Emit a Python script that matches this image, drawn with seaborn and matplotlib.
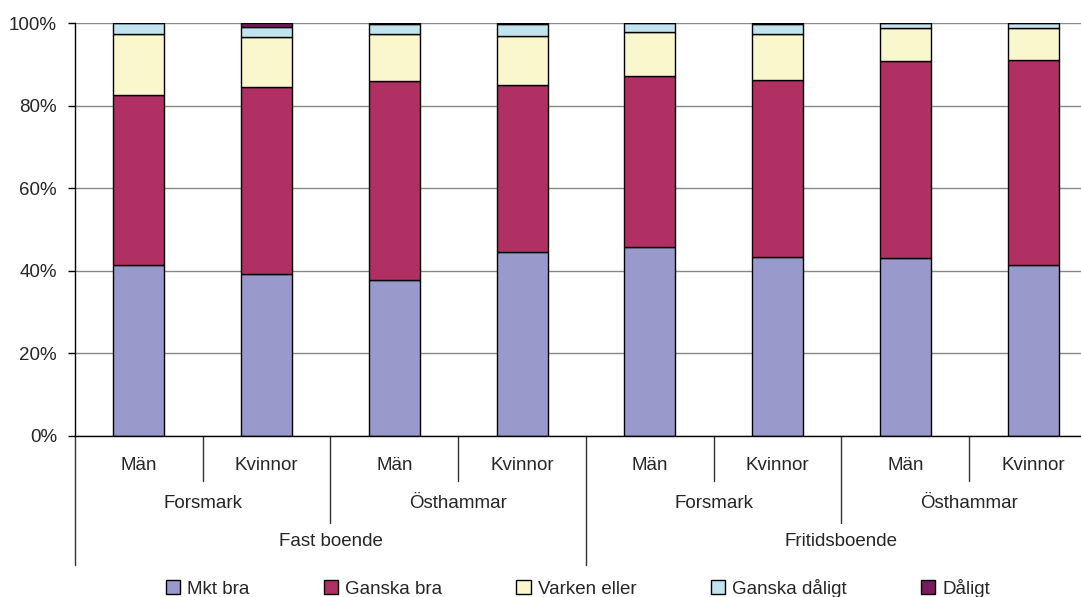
import numpy as np
import pandas as pd
import matplotlib.pyplot as plt
import seaborn as sns

# Survey answers, share in percent per group
residence = ['Fast boende'] * 4 + ['Fritidsboende'] * 4
place = ['Forsmark', 'Forsmark', 'Östhammar', 'Östhammar'] * 2
sex = ['Män', 'Kvinnor'] * 4

answers = ['Mkt bra', 'Ganska bra', 'Varken eller', 'Ganska dåligt', 'Dåligt']
mkt_bra = [41.4, 39.2, 37.8, 44.6, 45.8, 43.3, 43.1, 41.4]
ganska_bra = [41.2, 45.3, 48.2, 40.4, 41.4, 42.9, 47.7, 49.6]
varken = [14.7, 12.0, 11.3, 11.9, 10.5, 11.1, 8.0, 7.8]
ganska_daligt = [2.7, 2.6, 2.4, 2.8, 2.3, 2.4, 1.2, 1.2]
daligt = [0.0, 0.9, 0.3, 0.3, 0.0, 0.3, 0.0, 0.0]

colors = ['#9999cc', '#b03064', '#fbf7cc', '#c2e4ee', '#7a1a60']

keys = [f'{r}|{p}|{s}' for r, p, s in zip(residence, place, sex)]
df = pd.DataFrame({'key': keys, 'Mkt bra': mkt_bra, 'Ganska bra': ganska_bra,
                   'Varken eller': varken, 'Ganska dåligt': ganska_daligt,
                   'Dåligt': daligt})

sns.set_style('white')
plt.rcParams['font.family'] = ['Liberation Sans', 'DejaVu Sans']
FS = 13.5

fig = plt.figure(figsize=(10.81, 5.97), dpi=100)
ax = fig.add_axes([75 / 1081, 1 - 436 / 597, 1022 / 1081, 413 / 597])

bottom = np.zeros(len(df))
for ans, col in zip(answers, colors):
    sns.barplot(data=df, x='key', y=ans, order=keys, color=col, width=0.4,
                bottom=bottom, edgecolor='black', linewidth=1, ax=ax,
                saturation=1, label=ans)
    bottom = bottom + df[ans].values

ax.set_ylim(0, 100)
ax.set_xlim(-0.5, 7.5)
ax.set_yticks(range(0, 101, 20))
ax.set_yticklabels([f'{v}%' for v in range(0, 101, 20)], fontsize=FS)
ax.yaxis.grid(True, color='#888888', linewidth=1)
ax.set_axisbelow(True)
ax.tick_params(axis='y', direction='out', length=5, left=True, width=1, color='black', pad=8)
ax.set_xticks([])
ax.set_xlabel('')
ax.set_ylabel('')
for s in ['top', 'right']:
    ax.spines[s].set_visible(False)
for s in ['left', 'bottom']:
    ax.spines[s].set_color('black')
    ax.spines[s].set_linewidth(1)
if ax.get_legend():
    ax.get_legend().remove()

# hierarchical category labels below the axis
trans = ax.get_xaxis_transform()
px = 1 / 413
for i, s in enumerate(sex):
    ax.text(i, -(466 - 436) * px, s, transform=trans, ha='center', va='center', fontsize=FS)
for i in range(0, 8, 2):
    ax.text(i + 0.5, -(503 - 436) * px, place[i], transform=trans, ha='center', va='center', fontsize=FS)
for i in range(0, 8, 4):
    ax.text(i + 1.5, -(542 - 436) * px, residence[i], transform=trans, ha='center', va='center', fontsize=FS)

for x in [0.5, 2.5, 4.5, 6.5]:
    ax.plot([x, x], [0, -(481 - 436) * px], transform=trans, color='#333333', lw=1, clip_on=False)
for x in [1.5, 5.5]:
    ax.plot([x, x], [0, -(523 - 436) * px], transform=trans, color='#333333', lw=1, clip_on=False)
for x in [-0.5, 3.5, 7.5]:
    ax.plot([x, x], [0, -(565 - 436) * px], transform=trans, color='#333333', lw=1, clip_on=False)

handles = [plt.Rectangle((0, 0), 1, 1, facecolor=c, edgecolor='black', linewidth=1) for c in colors]
fig.legend(handles, answers, loc='center', bbox_to_anchor=(578 / 1081, 1 - 588 / 597), ncol=5,
           frameon=False, fontsize=FS, handlelength=0.75, handleheight=0.75,
           handletextpad=0.4, columnspacing=3.95)

fig.savefig('out.png', dpi=100)
